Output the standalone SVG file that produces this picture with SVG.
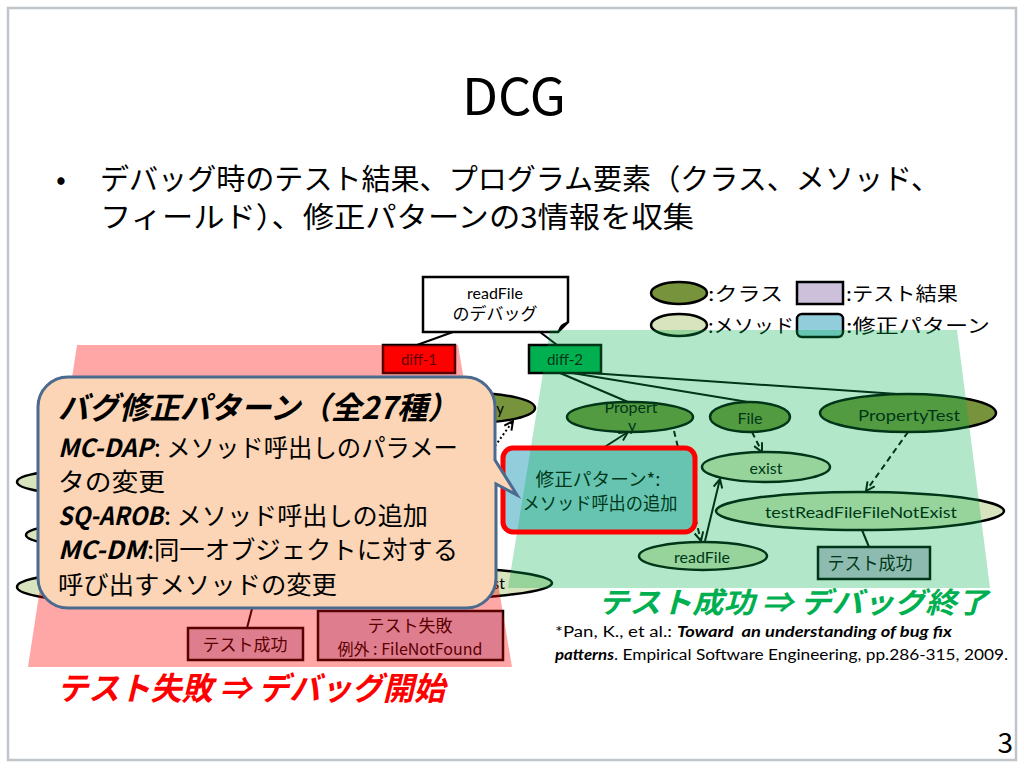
<svg xmlns="http://www.w3.org/2000/svg" width="1024" height="768" viewBox="0 0 1024 768">
<defs>
<style>
.jp{font-family:"Noto Sans CJK JP","Noto Sans",sans-serif;}
.lt{font-family:Lato,"Noto Sans","Noto Sans CJK JP",sans-serif;}
.bi{font-weight:bold;font-style:italic;}
.cls{fill:#77933c;stroke:#000;stroke-width:2.5;}
.mth{fill:#d7e4bd;stroke:#000;stroke-width:2.5;}
.res{fill:#ccc0da;stroke:#000;stroke-width:2.5;}
.pat{fill:#92cddc;stroke:#000;stroke-width:2.5;}
.ln{stroke:#000;stroke-width:2;fill:none;}
.dash{stroke:#000;stroke-width:2;fill:none;stroke-dasharray:6 4;}
.dot{stroke:#000;stroke-width:2;fill:none;stroke-dasharray:2 2.5;}
.lbl{font-size:15px;fill:#000;text-anchor:middle;}
.leg{font-size:19px;fill:#000;}
.co{font-size:25px;fill:#000;}
</style>
<marker id="arr" viewBox="0 0 10 10" refX="9" refY="5" markerWidth="11" markerHeight="11" markerUnits="userSpaceOnUse" orient="auto"><path d="M1,1 L9,5 L1,9" fill="none" stroke="#000" stroke-width="1.8"/></marker>
</defs>

<rect x="0" y="0" width="1024" height="768" fill="#fff"/>
<rect x="8" y="8" width="1008" height="752" fill="none" stroke="#c0c4cb" stroke-width="2.5"/>

<text class="jp" x="514" y="115" font-size="51" text-anchor="middle" textLength="104" lengthAdjust="spacingAndGlyphs">DCG</text>
<text class="jp" x="56" y="190" font-size="29">•</text>
<text class="jp" x="100" y="190" font-size="29" textLength="840" lengthAdjust="spacingAndGlyphs">デバッグ時のテスト結果、プログラム要素（クラス、メソッド、</text>
<text class="jp" x="100" y="228" font-size="29" textLength="594" lengthAdjust="spacingAndGlyphs">フィールド）、修正パターンの3情報を収集</text>

<g id="legend">
  <ellipse class="cls" cx="679" cy="293" rx="28" ry="11"/>
  <text class="jp leg" x="708" y="301" textLength="75" lengthAdjust="spacingAndGlyphs">:クラス</text>
  <rect class="res" x="797" y="282" width="46" height="22"/>
  <text class="jp leg" x="846" y="301" textLength="112" lengthAdjust="spacingAndGlyphs">:テスト結果</text>
  <ellipse class="mth" cx="679" cy="325" rx="28" ry="11"/>
  <text class="jp leg" x="708" y="333" textLength="86" lengthAdjust="spacingAndGlyphs">:メソッド</text>
  <rect class="pat" x="797" y="314" width="46" height="23" rx="5"/>
  <text class="jp leg" x="846" y="333" textLength="144" lengthAdjust="spacingAndGlyphs">:修正パターン</text>
</g>

<g id="connectors">
  <line class="ln" x1="453" y1="332" x2="417" y2="345"/>
  <line class="ln" x1="540" y1="332" x2="557" y2="345"/>
  <line class="ln" x1="560" y1="373" x2="628" y2="402"/>
  <line class="ln" x1="572" y1="373" x2="748" y2="402"/>
  <line class="ln" x1="590" y1="373" x2="912" y2="395"/>
  <line class="ln" x1="603" y1="448" x2="628" y2="432" marker-end="url(#arr)"/>
  <line class="dash" x1="674" y1="431" x2="701" y2="541" marker-end="url(#arr)"/>
  <line class="ln" x1="705" y1="541" x2="720" y2="479" marker-end="url(#arr)"/>
  <line class="dash" x1="752" y1="432" x2="762" y2="452" marker-end="url(#arr)"/>
  <line class="dash" x1="908" y1="432" x2="866" y2="491" marker-end="url(#arr)"/>
  <line class="ln" x1="862" y1="530" x2="869" y2="547"/>
  <line class="dot" x1="495" y1="446" x2="513" y2="421" marker-end="url(#arr)"/>
  <line class="ln" x1="253" y1="605" x2="247" y2="628"/>
</g>

<g id="node-readfile-debug">
  <path d="M423,277 H568 V322 L558,332 H423 Z" fill="#fff" stroke="#000" stroke-width="2.5"/>
  <path d="M558,332 Q559,323 568,322 Q563,327 558,332 Z" fill="#000"/>
  <text class="lt" x="495" y="299" font-size="16" text-anchor="middle">readFile</text>
  <text class="jp" x="495" y="320" font-size="17" text-anchor="middle">のデバッグ</text>
</g>
<g id="node-diff1">
  <rect x="383" y="345" width="72" height="28" fill="#ff0000" stroke="#000" stroke-width="2.5"/>
  <text class="lt lbl" x="419" y="365">diff-1</text>
</g>
<g id="node-diff2">
  <rect x="529" y="345" width="72" height="28" fill="#00b050" stroke="#000" stroke-width="2.5"/>
  <text class="lt lbl" x="565" y="365">diff-2</text>
</g>

<g id="node-d1-property">
  <ellipse class="cls" cx="470" cy="408" rx="65" ry="15"/>
  <text class="lt" x="504" y="414" font-size="15" text-anchor="end">y</text>
</g>
<g id="node-d1-m1"><ellipse class="mth" cx="95" cy="482" rx="78" ry="13"/></g>
<g id="node-d1-m2"><ellipse class="mth" cx="100" cy="535" rx="74" ry="12"/></g>
<g id="node-d1-m3"><ellipse class="mth" cx="100" cy="587" rx="83" ry="14"/></g>
<g id="node-d1-test">
  <ellipse class="mth" cx="420" cy="583" rx="132" ry="16"/>
  <text class="lt" x="505" y="589" font-size="16" text-anchor="end">st</text>
</g>
<g id="node-d1-success">
  <rect class="res" x="188" y="628" width="115" height="32"/>
  <text class="jp" x="245" y="651" font-size="17" text-anchor="middle">テスト成功</text>
</g>
<g id="node-d1-fail">
  <rect class="res" x="318" y="611" width="185" height="49"/>
  <text class="jp" x="410" y="632" font-size="17" text-anchor="middle">テスト失敗</text>
  <text class="jp" x="410" y="655" font-size="16" text-anchor="middle">例外 : FileNotFound</text>
</g>

<g id="node-d2-propert">
  <ellipse class="cls" cx="630" cy="417" rx="63" ry="15"/>
  <text class="lt" x="631" y="413" font-size="16" text-anchor="middle">Propert</text>
  <text class="lt" x="632" y="431" font-size="16" text-anchor="middle">y</text>
</g>
<g id="node-d2-file">
  <ellipse class="cls" cx="750" cy="417" rx="40" ry="15"/>
  <text class="lt" x="750" y="424" font-size="16" text-anchor="middle">File</text>
</g>
<g id="node-d2-propertytest">
  <ellipse class="cls" cx="908" cy="413" rx="88" ry="19"/>
  <text class="lt" x="909" y="421" font-size="16" text-anchor="middle" textLength="102" lengthAdjust="spacingAndGlyphs">PropertyTest</text>
</g>
<g id="node-d2-exist">
  <ellipse class="mth" cx="766" cy="467" rx="64" ry="15"/>
  <text class="lt" x="766" y="474" font-size="16" text-anchor="middle">exist</text>
</g>
<g id="node-d2-test">
  <ellipse class="mth" cx="860" cy="511" rx="144" ry="19"/>
  <text class="lt" x="861" y="518" font-size="16" text-anchor="middle" textLength="192" lengthAdjust="spacingAndGlyphs">testReadFileFileNotExist</text>
</g>
<g id="node-d2-readfile">
  <ellipse class="mth" cx="703" cy="556" rx="64" ry="14"/>
  <text class="lt" x="702" y="563" font-size="16" text-anchor="middle">readFile</text>
</g>
<g id="node-d2-success">
  <rect class="res" x="818" y="547" width="112" height="32"/>
  <text class="jp" x="870" y="570" font-size="18" text-anchor="middle" textLength="85" lengthAdjust="spacingAndGlyphs">テスト成功</text>
</g>
<g id="node-d2-pattern">
  <rect x="503" y="448" width="192" height="84" rx="10" fill="#92cddc"/>
  <text class="jp" x="598" y="486" font-size="18" text-anchor="middle" textLength="125" lengthAdjust="spacingAndGlyphs">修正パターン*:</text>
  <text class="jp" x="600" y="510" font-size="18" text-anchor="middle" textLength="155" lengthAdjust="spacingAndGlyphs">メソッド呼出の追加</text>
</g>

<polygon points="77,345 458,345 512,667 28,667" fill="#ff0000" fill-opacity="0.35"/>
<polygon points="550,330 957,330 990,588 508,588" fill="#00b050" fill-opacity="0.3"/>

<rect x="503" y="448" width="192" height="84" rx="10" fill="none" stroke="#ff0000" stroke-width="5"/>

<g id="callout">
  <path d="M68,377 H465 A30,30 0 0 1 495,407 V460 L517,495 L496,484 V578 A30,30 0 0 1 466,608 H68 A30,30 0 0 1 38,578 V407 A30,30 0 0 1 68,377 Z" fill="#fbd5b5" stroke="#4a6b8f" stroke-width="3"/>
  <text class="jp bi" x="58" y="419" font-size="31" textLength="400" lengthAdjust="spacingAndGlyphs">バグ修正パターン（全27種）</text>
  <text class="jp bi co" x="58" y="457" textLength="95" lengthAdjust="spacingAndGlyphs">MC-DAP</text>
  <text class="jp co" x="154" y="457" textLength="304" lengthAdjust="spacingAndGlyphs">: メソッド呼出しのパラメー</text>
  <text class="jp co" x="58" y="491" textLength="107" lengthAdjust="spacingAndGlyphs">タの変更</text>
  <text class="jp bi co" x="58" y="525" textLength="105" lengthAdjust="spacingAndGlyphs">SQ-AROB</text>
  <text class="jp co" x="164" y="525" textLength="264" lengthAdjust="spacingAndGlyphs">: メソッド呼出しの追加</text>
  <text class="jp bi co" x="58" y="559" textLength="88" lengthAdjust="spacingAndGlyphs">MC-DM</text>
  <text class="jp co" x="147" y="559" textLength="311" lengthAdjust="spacingAndGlyphs">:同一オブジェクトに対する</text>
  <text class="jp co" x="58" y="594" textLength="279" lengthAdjust="spacingAndGlyphs">呼び出すメソッドの変更</text>
</g>

<text class="jp bi" x="57" y="700" font-size="32" fill="#ff0000" textLength="388" lengthAdjust="spacingAndGlyphs">テスト失敗 ⇒ デバッグ開始</text>
<text class="jp bi" x="598" y="613" font-size="29" fill="#00b050" textLength="390" lengthAdjust="spacingAndGlyphs">テスト成功 ⇒ デバッグ終了</text>

<g id="citation">
  <text class="lt" x="555" y="637" font-size="15.5" textLength="117" lengthAdjust="spacingAndGlyphs">*Pan, K., et al.:</text>
  <text class="lt bi" x="677" y="637" font-size="15.5" textLength="275" lengthAdjust="spacingAndGlyphs" style="white-space:pre">Toward  an understanding of bug fix</text>
  <text class="lt bi" x="555" y="660" font-size="15.5" textLength="59" lengthAdjust="spacingAndGlyphs">patterns</text>
  <text class="lt" x="614" y="660" font-size="15.5" textLength="394" lengthAdjust="spacingAndGlyphs">. Empirical Software Engineering, pp.286-315, 2009.</text>
</g>

<text class="jp" x="1013" y="753" font-size="28" text-anchor="end">3</text>
</svg>
